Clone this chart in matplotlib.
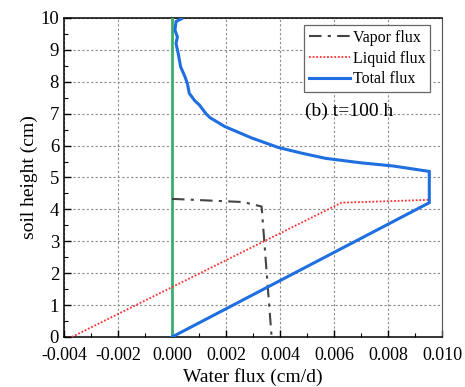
import matplotlib
matplotlib.use("Agg")
import matplotlib.pyplot as plt
from matplotlib.ticker import MultipleLocator, FormatStrFormatter

# soil height (cm) vs flux (cm/d)
vapor_x = [0.0, 0.00264, 0.00332, 0.00369]
vapor_y = [4.33, 4.23, 4.09, 0.0]

liquid_x = [-0.00371, 0.00628, 0.00955]
liquid_y = [0.0, 4.21, 4.30]

total_x = [0.0, 0.00953, 0.00953, 0.0082, 0.0070, 0.00569, 0.00482, 0.00394,
           0.00295, 0.00195, 0.0014, 0.00126, 0.00101, 0.00085, 0.00064, 0.00057,
           0.00048, 0.00032, 0.00023, 0.00015, 0.0002, 0.00011, 0.00015, 0.00036]
total_y = [0.0, 4.21, 5.19, 5.36, 5.46, 5.6, 5.76, 5.94,
           6.24, 6.6, 6.88, 7.0, 7.28, 7.4, 7.64, 7.95,
           8.16, 8.47, 8.89, 9.2, 9.41, 9.62, 9.89, 9.98]

zero_x = [0.0, 0.0]
zero_y = [0.0, 10.0]

plt.rcParams["font.family"] = ["Liberation Serif", "DejaVu Serif"]

fig = plt.figure(figsize=(4.65, 3.87), dpi=100)
ax = fig.add_axes([0.1376, 0.1292, 0.8129, 0.8243])

ax.grid(True, which="major", linestyle=(0, (2, 2)), color="#8a8a8a", linewidth=0.8)
ax.set_axisbelow(True)

ax.plot(zero_x, zero_y, color="#3aae6c", linewidth=2.0, zorder=3)
ax.plot(vapor_x, vapor_y, color="#444444", linewidth=1.5,
        linestyle=(0, (6, 3, 1.5, 3)), label="Vapor flux", zorder=4)
ax.plot(liquid_x, liquid_y, color="#ff3030", linewidth=1.3,
        linestyle=(0, (1, 1)), label="Liquid flux", zorder=4)
ax.plot(total_x, total_y, color="#1f6fe0", linewidth=2.2,
        label="Total flux", zorder=5, solid_joinstyle="miter")

ax.set_xlim(-0.004, 0.010)
ax.set_ylim(0, 10)
ax.xaxis.set_major_locator(MultipleLocator(0.002))
ax.xaxis.set_minor_locator(MultipleLocator(0.001))
ax.xaxis.set_major_formatter(FormatStrFormatter("%.3f"))
ax.yaxis.set_major_locator(MultipleLocator(1))
ax.yaxis.set_minor_locator(MultipleLocator(0.5))
ax.tick_params(which="both", direction="in", labelsize=13.5, top=False, right=False)
ax.tick_params(which="major", length=5, width=1)
ax.tick_params(which="minor", length=3, width=0.8)
ax.tick_params(axis="x", pad=7, labelsize=13)
ax.tick_params(axis="y", pad=3.5)

for side in ["left", "bottom", "top"]:
    ax.spines[side].set_linewidth(1.1)
ax.spines["right"].set_color("#555555")

ax.set_xlabel("Water flux (cm/d)", fontsize=14, labelpad=3)
ax.set_ylabel("soil height (cm)", fontsize=14, labelpad=2)

leg = ax.legend(loc="upper left", bbox_to_anchor=(0.635, 0.978), fontsize=11.5,
                fancybox=False, edgecolor="#666666", framealpha=1,
                handlelength=2.6, handletextpad=0.15, borderpad=0.3,
                labelspacing=0.3, borderaxespad=0)
leg.get_frame().set_linewidth(0.9)

ax.text(0.638, 0.706, "(b) t=100 h", transform=ax.transAxes,
        fontsize=14, va="center", ha="left")

fig.savefig("out.png", dpi=100)
